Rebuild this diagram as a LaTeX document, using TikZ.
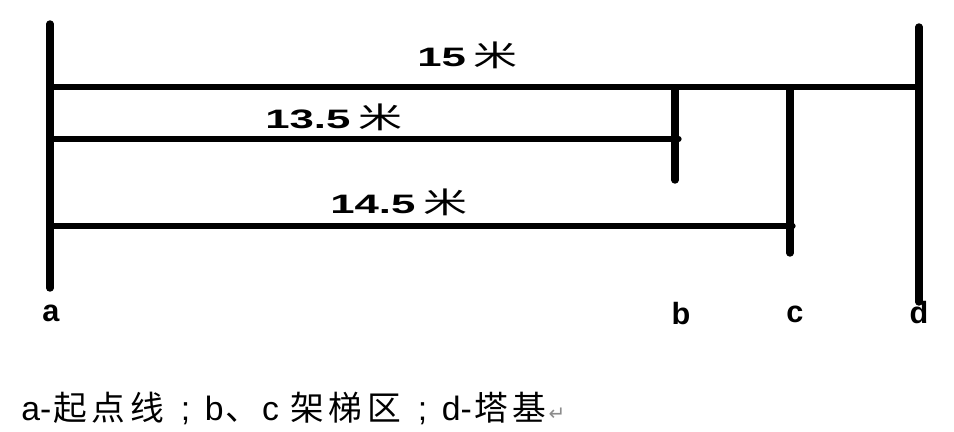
\documentclass[tikz,border=0pt]{standalone}
\usepackage{fontspec}
\setmainfont{Liberation Sans}
\newfontfamily\cjk{Noto Sans CJK SC}
\newfontfamily\symf{DejaVu Sans}
\newcommand\zh[1]{\makebox[28.8pt]{\cjk #1}}
\newcommand\semi{\makebox[28.8pt][c]{;}}
\newcommand\dimtext[1]{\scalebox{1.64}[1]{\fontsize{20}{20}\selectfont\bfseries #1}}
\newcommand\mi{\hspace{6pt}\scalebox{1.5}[1]{\fontsize{22}{22}\selectfont\cjk 米}}
\begin{document}
\begin{tikzpicture}[x=0.75pt,y=-0.75pt,
  vline/.style={line width=5.6pt,line cap=round},
  hline/.style={line width=3.9pt,line cap=round},
  dimlabel/.style={inner sep=0pt,anchor=base west},
  endlabel/.style={inner sep=0pt,anchor=base,font=\fontsize{23}{23}\selectfont\bfseries},
  legend/.style={inner sep=0pt,anchor=base west,font=\fontsize{25.3}{25.3}\selectfont}]
\useasboundingbox (0,0) rectangle (954,432);
% end points
\coordinate (aT) at (50,24);  \coordinate (aB) at (50,288);
\coordinate (dT) at (919,27); \coordinate (dB) at (919,302);
\coordinate (bT) at (675,88); \coordinate (bB) at (675,180);
\coordinate (cT) at (790,88); \coordinate (cB) at (790,253);
\coordinate (h1L) at (50,87);  \coordinate (h1R) at (919,87);
\coordinate (h2L) at (50,139); \coordinate (h2R) at (679,139);
\coordinate (h3L) at (50,226); \coordinate (h3R) at (793,226);
% lines
\draw[vline] (aT) -- (aB);
\draw[vline] (dT) -- (dB);
\draw[vline] (bT) -- (bB);
\draw[vline] (cT) -- (cB);
\draw[hline] (h1L) -- (h1R);
\draw[hline] (h2L) -- (h2R);
\draw[hline] (h3L) -- (h3R);
% dimension labels
\node[dimlabel] (l15) at (417,66) {\dimtext{15}\mi};
\node[dimlabel] (l135) at (265,128) {\dimtext{13.5}\mi};
\node[dimlabel] (l145) at (330,213) {\dimtext{14.5}\mi};
% end labels
\node[endlabel] (la) at (51,321) {a};
\node[endlabel] (lb) at (681,324) {b};
\node[endlabel] (lc) at (795,322) {c};
\node[endlabel] (ld) at (919,323) {d};
% legend
\node[legend] (leg) at (21,420) {a-\zh{起}\zh{点}\zh{线}\semi b\zh{、}c \zh{架}\zh{梯}\zh{区}\semi d-\zh{塔}\zh{基}{\symf\fontsize{15}{15}\selectfont\color{black!45}↵}};
\end{tikzpicture}
\end{document}
